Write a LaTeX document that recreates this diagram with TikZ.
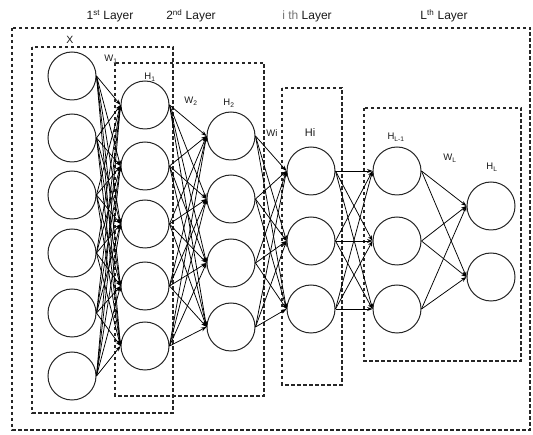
\documentclass[tikz,border=0pt]{standalone}
\usepackage{fontspec}
\setmainfont{Liberation Sans}
\usetikzlibrary{arrows.meta}

\tikzset{
  neuron/.style={circle, draw=black!85, line width=1pt, minimum size=48pt, inner sep=0pt},
  group/.style={draw=black!85, line width=1.4pt, dash pattern=on 3.5pt off 2.5pt},
  link/.style={draw=black, line width=0.75pt, -{Stealth[length=5.5pt,width=4pt]}},
  title/.style={font=\fontsize{12}{14}\selectfont, text=black!90},
  tag/.style={font=\fontsize{9.5}{11}\selectfont, text=black!90}
}

\begin{document}
\begin{tikzpicture}[x=1pt, y=-1pt]
  \useasboundingbox (0,0) rectangle (533,435);

  % dashed groupings
  \draw[group] (12,28) rectangle (530,430);
  \draw[group] (32,47) rectangle (173,413);
  \draw[group] (115,63) rectangle (264,396);
  \draw[group] (282,88) rectangle (342,385);
  \draw[group] (364,108) rectangle (521,361);

  % input layer X
  \foreach \y [count=\i] in {76,138,195,253,313,376}
    \node[neuron] (x\i) at (72,\y) {};
  % hidden layer H1
  \foreach \y [count=\i] in {105,166,224,286,346}
    \node[neuron] (ha\i) at (145,\y) {};
  % hidden layer H2
  \foreach \y [count=\i] in {136,199,263,327}
    \node[neuron] (hb\i) at (231,\y) {};
  % hidden layer Hi
  \foreach \y [count=\i] in {171,241,309}
    \node[neuron] (hi\i) at (311,\y) {};
  % hidden layer H_{L-1}
  \foreach \y [count=\i] in {171,241,309}
    \node[neuron] (hm\i) at (397,\y) {};
  % output layer H_L
  \foreach \y [count=\i] in {206,277}
    \node[neuron] (hl\i) at (491,\y) {};

  % fully connected weights between consecutive layers
  \foreach \a in {1,...,6}
    \foreach \b in {1,...,5}
      \draw[link] (x\a.east) -- (ha\b.west);
  \foreach \a in {1,...,5}
    \foreach \b in {1,...,4}
      \draw[link] (ha\a.east) -- (hb\b.west);
  \foreach \a in {1,...,4}
    \foreach \b in {1,...,3}
      \draw[link] (hb\a.east) -- (hi\b.west);
  \foreach \a in {1,...,3}
    \foreach \b in {1,...,3}
      \draw[link] (hi\a.east) -- (hm\b.west);
  \foreach \a in {1,...,3}
    \foreach \b in {1,...,2}
      \draw[link] (hm\a.east) -- (hl\b.west);

  % layer titles
  \node[title] (t1) at (110,16) {1\textsuperscript{st} Layer};
  \node[title] (t2) at (191,16) {2\textsuperscript{nd} Layer};
  \node[title] (t3) at (307,16) {{\color{black!55}i th} Layer};
  \node[title] (t4) at (444,16) {L\textsuperscript{th} Layer};

  % layer and weight labels
  \node[tag, font=\fontsize{10.5}{12}\selectfont] (lx) at (70,40) {X};
  \node[tag] (lw1) at (111,59) {W\textsubscript{1}};
  \node[tag] (lh1) at (150,77) {H\textsubscript{1}};
  \node[tag] (lw2) at (191,101) {W\textsubscript{2}};
  \node[tag] (lh2) at (229,103) {H\textsubscript{2}};
  \node[tag] (lwi) at (272,133) {Wi};
  \node[tag, font=\fontsize{11}{12}\selectfont] (lhi) at (310,133) {Hi};
  \node[tag] (lhm) at (396,137) {H\textsubscript{L-1}};
  \node[tag] (lwl) at (450,158) {W\textsubscript{L}};
  \node[tag] (lhl) at (492,167) {H\textsubscript{L}};
\end{tikzpicture}
\end{document}
